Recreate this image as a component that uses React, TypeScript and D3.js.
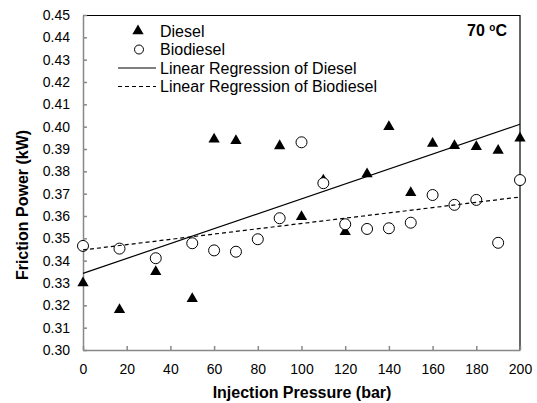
import { useRef, useEffect } from 'react';
import * as d3 from 'd3';

// injection pressure (bar)
const pressures = [0, 16.7, 33.3, 50, 60, 70, 80, 90, 100, 110, 120, 130, 140, 150, 160, 170, 180, 190, 200];
// friction power (kW)
const diesel = [0.330, 0.318, 0.335, 0.323, 0.3944, 0.3937, null, 0.3914, 0.3597, 0.376, 0.353, 0.3788, 0.400, 0.3704, 0.3925, 0.3915, 0.391, 0.3893, 0.3948];
const biodiesel = [0.3466, 0.3454, 0.3411, 0.3478, 0.3446, 0.344, 0.3496, 0.359, 0.393, 0.3747, 0.3563, 0.3542, 0.3545, 0.357, 0.3694, 0.365, 0.3672, 0.348, 0.3761];
// regression lines: [intercept, slope]
const dieselFit = [0.3343, 0.000334];
const biodieselFit = [0.3448, 0.0001185];

const xTicks = d3.range(0, 201, 20);
const yTicks = d3.range(0.30, 0.4501, 0.01);
const legendLabels = ['Diesel', 'Biodiesel', 'Linear Regression of Diesel', 'Linear Regression of Biodiesel'];

const W = 537, H = 403;
const margin = { top: 15, right: 17, bottom: 53, left: 83 };
const FONT = 'Liberation Sans, Arial, sans-serif';

export default function App() {
  const svgRef = useRef<SVGSVGElement>(null);

  useEffect(() => {
    if (!svgRef.current) return;
    const svg = d3.select(svgRef.current);
    svg.selectAll('*').remove();

    const innerW = W - margin.left - margin.right;
    const innerH = H - margin.top - margin.bottom;
    const x = d3.scaleLinear().domain([0, 200]).range([0, innerW]);
    const y = d3.scaleLinear().domain([0.30, 0.45]).range([innerH, 0]);

    svg.append('rect').attr('width', W).attr('height', H).attr('fill', '#fff');
    const g = svg.append('g').attr('transform', `translate(${margin.left},${margin.top})`);

    // frame: top & right black
    g.append('path')
      .attr('d', `M0,0.5H${innerW}V${innerH}`)
      .attr('fill', 'none').attr('stroke', '#000').attr('stroke-width', 1.2);

    // X axis
    g.append('g')
      .attr('transform', `translate(0,${innerH})`)
      .call(d3.axisBottom(x).tickValues(xTicks).tickSizeInner(-4).tickSizeOuter(0).tickPadding(14).tickFormat(d3.format('d')))
      .call((a) => {
        a.selectAll('text').attr('fill', '#000').attr('font-size', 14).attr('font-family', FONT);
        a.selectAll('.domain, line').attr('stroke', '#888').attr('stroke-width', 1.5);
      });

    // Y axis
    g.append('g')
      .call(d3.axisLeft(y).tickValues(yTicks).tickSizeInner(-4).tickSizeOuter(0).tickPadding(13).tickFormat(d3.format('.2f')))
      .call((a) => {
        a.selectAll('text').attr('fill', '#000').attr('font-size', 14).attr('font-family', FONT);
        a.selectAll('.domain, line').attr('stroke', '#888').attr('stroke-width', 1.5);
      });

    // axis titles
    svg.append('text')
      .attr('x', 302).attr('y', 398)
      .attr('text-anchor', 'middle').attr('font-size', 16).attr('font-weight', 'bold').attr('font-family', FONT)
      .text('Injection Pressure (bar)');
    svg.append('text')
      .attr('transform', `translate(28,205) rotate(-90)`)
      .attr('text-anchor', 'middle').attr('font-size', 16).attr('font-weight', 'bold').attr('font-family', FONT)
      .text('Friction Power (kW)');

    const tri = d3.symbol().type(d3.symbolTriangle).size(55);

    // Diesel
    g.selectAll('.dsl')
      .data(pressures.map((p, i) => [p, diesel[i]]).filter((d) => d[1] != null))
      .join('path')
      .attr('transform', (d) => `translate(${x(d[0] as number)},${y(d[1] as number)})`)
      .attr('d', tri)
      .attr('fill', '#000');

    // Biodiesel
    g.selectAll('.bio')
      .data(pressures.map((p, i) => [p, biodiesel[i]]))
      .join('circle')
      .attr('cx', (d) => x(d[0]))
      .attr('cy', (d) => y(d[1]))
      .attr('r', 5.5)
      .attr('fill', '#fff').attr('stroke', '#000').attr('stroke-width', 1);

    // regression lines
    const fitLine = (fit: number[]) => [0, 200].map((p) => [x(p), y(fit[0] + fit[1] * p)] as [number, number]);
    g.append('path').attr('d', d3.line()(fitLine(dieselFit))).attr('stroke', '#000').attr('stroke-width', 1.2).attr('fill', 'none');
    g.append('path').attr('d', d3.line()(fitLine(biodieselFit))).attr('stroke', '#000').attr('stroke-width', 1.2)
      .attr('stroke-dasharray', '4,3').attr('fill', 'none');

    // legend
    const lg = svg.append('g').attr('font-family', FONT).attr('font-size', 16);
    legendLabels.forEach((label, i) => {
      const cy = 31 + i * 18.5;
      lg.append('text').attr('x', 160).attr('y', cy).attr('dy', '0.35em').text(label);
      if (i === 0) lg.append('path').attr('transform', `translate(138,${cy})`).attr('d', tri).attr('fill', '#000');
      if (i === 1) lg.append('circle').attr('cx', 139).attr('cy', cy).attr('r', 4.5).attr('fill', '#fff').attr('stroke', '#000');
      if (i >= 2) lg.append('line').attr('x1', 118).attr('x2', 156).attr('y1', cy).attr('y2', cy)
        .attr('stroke', '#000').attr('stroke-width', 1).attr('stroke-dasharray', i === 3 ? '4,3' : null);
    });

    // temperature label
    const t = svg.append('text').attr('x', 507).attr('y', 36).attr('text-anchor', 'end')
      .attr('font-family', FONT).attr('font-weight', 'bold').attr('font-size', 16);
    t.append('tspan').text('70 ');
    t.append('tspan').attr('font-size', 10).attr('dy', -5).text('o');
    t.append('tspan').attr('dy', 5).text('C');
  }, []);

  return <svg ref={svgRef} width={W} height={H} style={{ display: 'block', position: 'absolute', left: 0, top: 0 }} />;
}
